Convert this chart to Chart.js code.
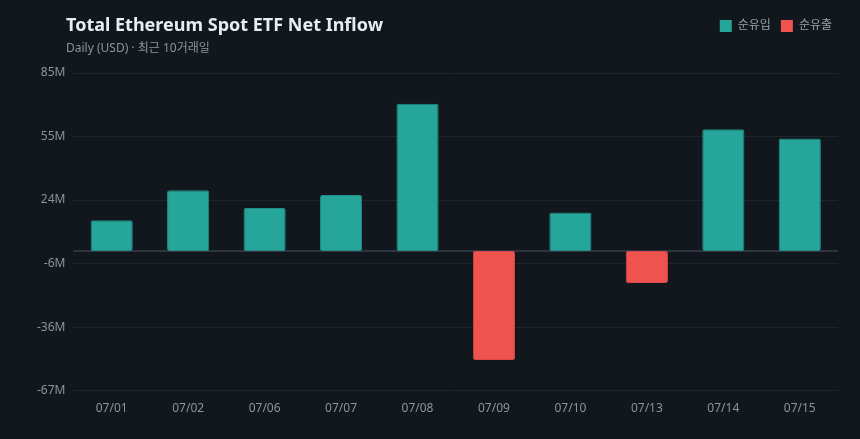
<!DOCTYPE html>
<html>
<head>
<meta charset="utf-8">
<script src="https://cdn.jsdelivr.net/npm/chart.js@4"></script>
<style>
    html, body {
        margin: 0;
        padding: 0;
        background: #12161d;
    }
    #wrap {
        position: relative;
        width: 860px;
        height: 439px;
    }
    #title {
        position: absolute;
        left: 66px;
        top: 12px;
        font-family: "Noto Sans", "Noto Sans CJK KR", sans-serif;
        font-weight: bold;
        font-size: 18px;
        color: #e6edf3;
    }
    #subtitle {
        position: absolute;
        left: 66px;
        top: 38px;
        font-family: "Noto Sans", "Noto Sans CJK KR", sans-serif;
        font-size: 12px;
        color: #8b949e;
    }
</style>
</head>
<body>
<div id="wrap">
    <canvas id="flowChart" width="860" height="439"></canvas>
    <div id="title">Total Ethereum Spot ETF Net Inflow</div>
    <div id="subtitle">Daily (USD) · 최근 10거래일</div>
</div>

<script>
    // dati (milioni di USD)
    const days = ["07/01", "07/02", "07/06", "07/07", "07/08", "07/09", "07/10", "07/13", "07/14", "07/15"];
    const netFlow = [14.7, 29.1, 20.6, 26.8, 70.5, -52.1, 18.4, -15.3, 58.3, 53.9];
    const legendNames = ["순유입", "순유출"];
    const yMin = -66.8;
    const yMax = 85.2;
    const yStep = 30.4;

    const green = "#26a69a";
    const red = "#ef5350";
    const font = "'Noto Sans', 'Noto Sans CJK KR', sans-serif";

    // linea dello zero + spazio sotto la legenda
    const zeroLine = {
        id: "zeroLine",
        beforeInit(chart) {
            const fit = chart.legend.fit;
            chart.legend.fit = function () {
                fit.bind(chart.legend)();
                this.height += 31;
            };
        },
        afterLayout(chart) {
            chart.legend.left += 4;
            chart.legend.right += 4;
        },
        beforeDatasetsDraw(chart) {
            const y = chart.scales.y.getPixelForValue(0);
            const ctx = chart.ctx;
            ctx.save();
            ctx.strokeStyle = "#2e3540";
            ctx.lineWidth = 2;
            ctx.beginPath();
            ctx.moveTo(chart.chartArea.left, y);
            ctx.lineTo(chart.chartArea.right, y);
            ctx.stroke();
            ctx.restore();
        }
    };

    new Chart("flowChart", {
        type: "bar",
        data: {
            labels: days,
            datasets: [{
                data: netFlow,
                backgroundColor: netFlow.map(v => v >= 0 ? green : red),
                borderColor: netFlow.map(v => v >= 0 ? "#1f8f85" : "#d9484a"),
                borderWidth: 1,
                borderSkipped: false,
                borderRadius: 2,
                categoryPercentage: 0.8,
                barPercentage: 0.69
            }]
        },
        options: {
            responsive: false,
            animation: false,
            layout: {
                padding: { top: 10, left: 29, right: 22, bottom: 20 }
            },
            plugins: {
                tooltip: { enabled: false },
                legend: {
                    position: "top",
                    align: "end",
                    labels: {
                        boxWidth: 12,
                        boxHeight: 12,
                        padding: 10,
                        color: "#9aa3ad",
                        font: { family: font, size: 12 },
                        generateLabels: () => [
                            { text: legendNames[0], fillStyle: green, strokeStyle: green, lineWidth: 0, fontColor: "#9aa3ad" },
                            { text: legendNames[1], fillStyle: red, strokeStyle: red, lineWidth: 0, fontColor: "#9aa3ad" }
                        ]
                    }
                }
            },
            scales: {
                x: {
                    grid: { display: false },
                    border: { display: false },
                    ticks: {
                        color: "#8b949e",
                        font: { family: font, size: 12 },
                        padding: 3
                    }
                },
                y: {
                    min: yMin,
                    max: yMax,
                    afterBuildTicks(axis) {
                        const t = [];
                        for (let v = yMin; v <= yMax + 0.01; v += yStep) t.push({ value: v });
                        axis.ticks = t;
                    },
                    grid: {
                        color: "#20252d",
                        drawTicks: false
                    },
                    border: { display: false },
                    ticks: {
                        color: "#8b949e",
                        font: { family: font, size: 12 },
                        padding: 8,
                        callback: v => Math.round(v) + "M"
                    }
                }
            }
        },
        plugins: [zeroLine]
    });
</script>
</body>
</html>
